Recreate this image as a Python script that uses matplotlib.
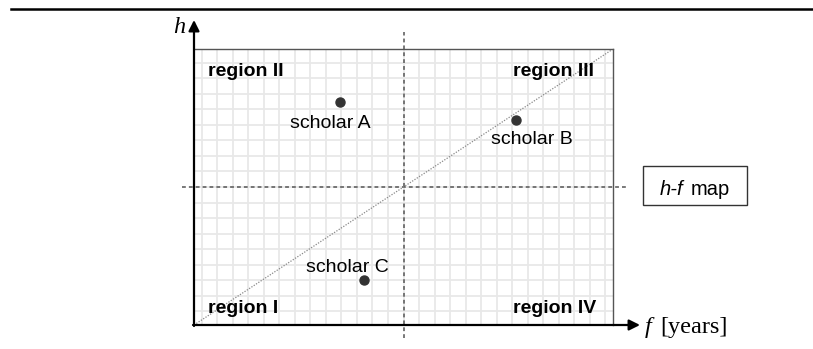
import numpy as np
import matplotlib
matplotlib.use('Agg')
import matplotlib.pyplot as plt
from matplotlib.patches import Rectangle
from matplotlib.lines import Line2D

plt.rcParams['font.family'] = ['Liberation Sans', 'DejaVu Sans']

# scholars on the h-f map (grid units, origin at the centre lines)
scholars = ['scholar A', 'scholar B', 'scholar C']
f_vals = [-4.1, 7.26, -2.55]
h_vals = [5.48, 4.32, -6.0]

regions = ['region I', 'region II', 'region III', 'region IV']

W, H = 813, 349
fig = plt.figure(figsize=(W / 100, H / 100), dpi=100)


def px(x, y):
    # pixel position -> figure fraction
    return x / W, 1 - y / H


ax = fig.add_axes([194 / W, 1 - 325 / H, 419 / W, 276 / H])
xmax, ymax = 13.5, 8.9
ax.set_xlim(-xmax, xmax)
ax.set_ylim(-ymax, ymax)

# background grid
for gx in np.arange(-13, 14):
    ax.axvline(gx, color='#e8e8e8', lw=1.3, zorder=0)
for gy in np.arange(-8, 9):
    ax.axhline(gy, color='#e8e8e8', lw=1.3, zorder=0)

ax.set_xticks([])
ax.set_yticks([])
for s in ['top', 'right']:
    ax.spines[s].set_color('#555555')
    ax.spines[s].set_linewidth(1.0)
for s in ['left', 'bottom']:
    ax.spines[s].set_visible(False)

# centre lines and diagonal
ax.plot([0, 0], [-9.74, 10.0], ls=(0, (2.5, 2)), color='#555555', lw=1.1, clip_on=False)
ax.plot([-14.29, 14.48], [0, 0], ls=(0, (2.5, 2)), color='#555555', lw=1.1, clip_on=False)
ax.plot([-xmax, xmax], [-ymax, ymax], ls=(0, (1, 1.2)), color='#888888', lw=0.9)

# scholars
ax.plot(f_vals, h_vals, 'o', color='#333333', ms=6.5, zorder=5)
offsets = [(-7, -19), (11, -17), (-12, 6)]
for name, fx, hy, off in zip(scholars, f_vals, h_vals, offsets):
    ax.annotate(name, (fx, hy), xytext=off, textcoords='offset points',
                ha='center', va='baseline', fontsize=14)

# region labels
lx, rx, ty, by = 0.0334, 0.955, 0.902, 0.0446
ax.text(lx, by, regions[0], transform=ax.transAxes, fontsize=14, fontweight='bold', va='baseline')
ax.text(lx, ty, regions[1], transform=ax.transAxes, fontsize=14, fontweight='bold', va='baseline')
ax.text(rx, ty, regions[2], transform=ax.transAxes, fontsize=14, fontweight='bold', va='baseline', ha='right')
ax.text(rx + 0.006, by, regions[3], transform=ax.transAxes, fontsize=14, fontweight='bold', va='baseline', ha='right')

# axes with arrows
ax.annotate('', xy=px(194, 20), xytext=px(194, 326), xycoords='figure fraction',
            textcoords='figure fraction',
            arrowprops=dict(arrowstyle='-|>', color='black', lw=1.6, mutation_scale=16,
                            shrinkA=0, shrinkB=0))
ax.annotate('', xy=px(640, 325), xytext=px(193, 325), xycoords='figure fraction',
            textcoords='figure fraction',
            arrowprops=dict(arrowstyle='-|>', color='black', lw=1.6, mutation_scale=16,
                            shrinkA=0, shrinkB=0))

serif = ['Liberation Serif', 'DejaVu Serif']
fig.text(*px(185, 33), 'h', family=serif, style='italic', fontsize=17.5, ha='right', va='baseline')
fig.text(*px(645, 333), 'f', family=serif, style='italic', fontsize=17.5, va='baseline')
fig.text(*px(660, 333), '[years]', family=serif, fontsize=17.5, va='baseline')

# h-f map box
fig.add_artist(Rectangle(px(642.5, 204.5), 104.5 / W, 38.5 / H, transform=fig.transFigure,
                         fill=False, edgecolor='#333333', lw=1.0))
fig.text(*px(660, 195), 'h-f', style='italic', fontsize=14.5, va='baseline')
fig.text(*px(691, 195), 'map', fontsize=14.5, va='baseline')

# top rule
fig.add_artist(Line2D([11 / W, 1], [1 - 9 / H] * 2, transform=fig.transFigure,
                      color='black', lw=1.8))

fig.savefig('out.png', dpi=100)
